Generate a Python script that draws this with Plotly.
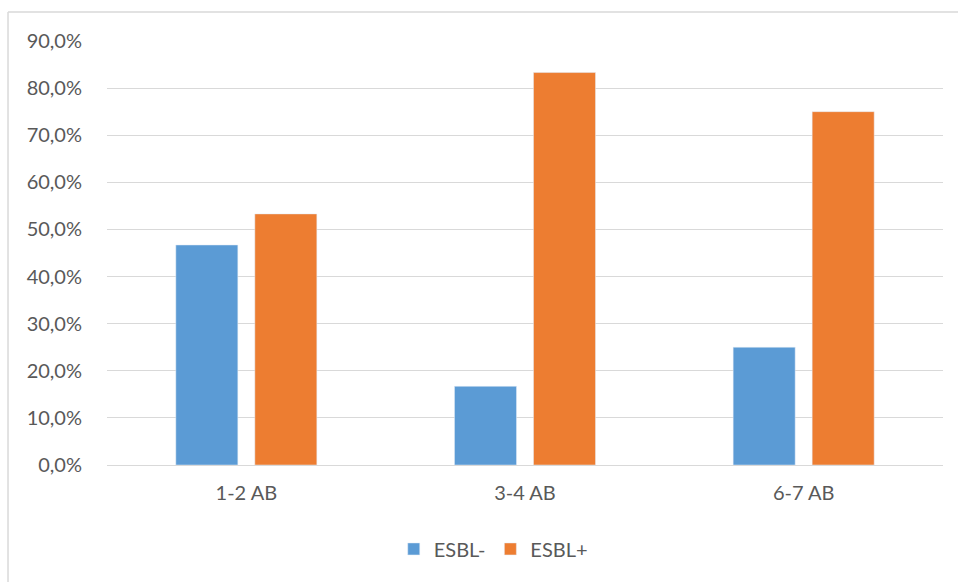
import plotly.graph_objects as go

categories = ["1-2 AB", "3-4 AB", "6-7 AB"]
esbl_neg = [46.7, 16.7, 25.0]
esbl_pos = [53.3, 83.3, 75.0]
y_ticks = [0, 10, 20, 30, 40, 50, 60, 70, 80, 90]
y_tick_labels = [f"{v:.1f}".replace(".", ",") + "%" for v in y_ticks]

font_family = "Lato, 'Open Sans', sans-serif"
text_color = "#595959"
grid_color = "#d9d9d9"

fig = go.Figure()
fig.add_trace(go.Bar(name="ESBL-", x=categories, y=esbl_neg, marker_color="#5b9bd5"))
fig.add_trace(go.Bar(name="ESBL+", x=categories, y=esbl_pos, marker_color="#ed7d31"))

fig.update_layout(
    width=958, height=582,
    margin=dict(l=107, r=15, t=41, b=117),
    paper_bgcolor="white", plot_bgcolor="white",
    barmode="group", bargap=0.433, bargroupgap=0.215,
    font=dict(family=font_family, size=20, color=text_color),
    showlegend=True,
    legend=dict(orientation="h", x=0.343, xanchor="left", y=-0.198, yanchor="middle",
                font=dict(size=20, color=text_color), itemwidth=30, traceorder="normal"),
    xaxis=dict(showgrid=False, showline=False, ticks="", tickfont=dict(size=20),
               ticklabelstandoff=14),
    yaxis=dict(range=[0, 90], tickvals=y_ticks, ticktext=y_tick_labels,
               showgrid=True, gridcolor=grid_color, gridwidth=1,
               zeroline=True, zerolinecolor=grid_color, zerolinewidth=1,
               showline=False, ticks="", ticklabelstandoff=24, tickfont=dict(size=20)),
    shapes=[
        dict(type="line", xref="paper", yref="paper", x0=-0.1184, x1=1.2, y0=1.0684, y1=1.0684,
             line=dict(color=grid_color, width=1.5)),
        dict(type="line", xref="paper", yref="paper", x0=-0.1184, x1=-0.1184, y0=1.0684, y1=-0.4,
             line=dict(color=grid_color, width=1.5)),
    ],
)

fig.write_html("out.html")
